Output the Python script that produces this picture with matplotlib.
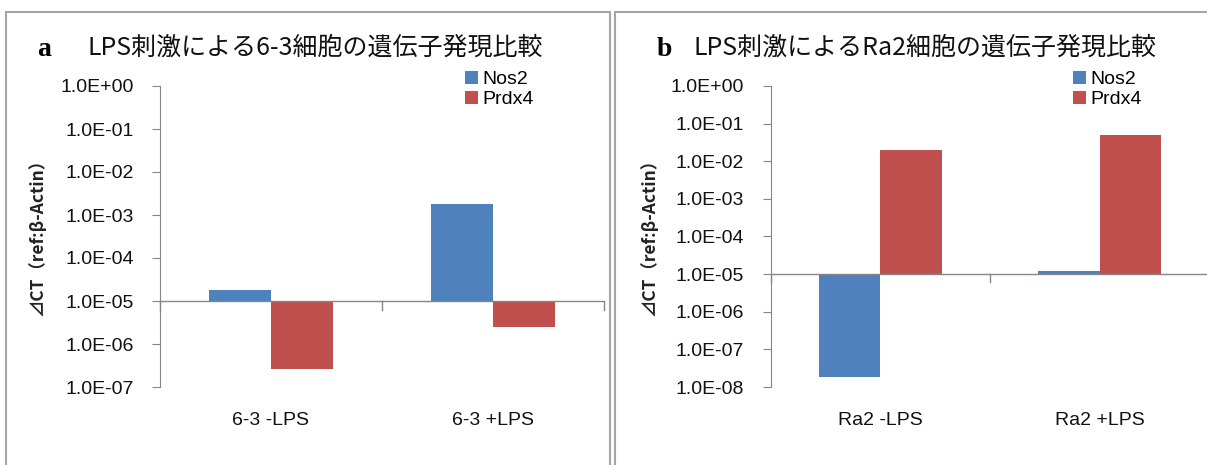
import matplotlib
matplotlib.use("Agg")
import matplotlib.pyplot as plt
from matplotlib.patches import Rectangle
from matplotlib.ticker import FixedLocator, FuncFormatter, NullLocator
import numpy as np

# ---- data ----
series = ["Nos2", "Prdx4"]
colors = ["#4F81BD", "#C0504D"]

cats_a = ["6-3 -LPS", "6-3 +LPS"]
nos2_a = [1.85e-5, 1.85e-3]
prdx4_a = [2.6e-7, 2.5e-6]
title_a = "LPS刺激による6-3細胞の遺伝子発現比較"
yticks_a = [1e0, 1e-1, 1e-2, 1e-3, 1e-4, 1e-5, 1e-6, 1e-7]

cats_b = ["Ra2 -LPS", "Ra2 +LPS"]
nos2_b = [1.9e-8, 1.2e-5]
prdx4_b = [1.95e-2, 5.0e-2]
title_b = "LPS刺激によるRa2細胞の遺伝子発現比較"
yticks_b = [1e0, 1e-1, 1e-2, 1e-3, 1e-4, 1e-5, 1e-6, 1e-7, 1e-8]

baseline = 1e-5
ylabel = "⊿CT（ref:β-Actin）"

W, H = 1207, 465
fig = plt.figure(figsize=(W / 100, H / 100), dpi=100)

def fx(px):
    return px / W

def fy(py):
    return 1 - py / H

CJK = ["Noto Sans CJK JP", "DejaVu Sans"]
LAT = ["Liberation Sans", "DejaVu Sans"]
axcol = "#868686"
framecol = "#A6A6A6"

# panel frames
fig.add_artist(Rectangle((fx(6), fy(475)), fx(610) - fx(6), fy(12) - fy(475),
                         transform=fig.transFigure, fill=False, ec=framecol, lw=1.5))
fig.add_artist(Rectangle((fx(615), fy(475)), fx(1220) - fx(615), fy(12) - fy(475),
                         transform=fig.transFigure, fill=False, ec=framecol, lw=1.5))


def panel(left_px, right_px, cats, vals, yticks, ylab_x, letter, letter_x, title,
          title_x, leg_x):
    ax = fig.add_axes([fx(left_px), fy(387), fx(right_px) - fx(left_px), fy(86) - fy(387)])
    ax.set_yscale("log")
    ax.set_ylim(min(yticks), max(yticks))
    ax.set_xlim(-0.5, len(cats) - 0.5)
    x = np.arange(len(cats))
    w = 0.28
    offs = [-w / 2, w / 2]
    handles = []
    for k, (s, c) in enumerate(zip(series, colors)):
        v = np.array(vals[k])
        h = ax.bar(x + offs[k], v - baseline, bottom=baseline, width=w, color=c,
                   label=s, linewidth=0)
        handles.append(h)
    # x-axis at baseline
    ax.axhline(baseline, color=axcol, lw=1.0, zorder=3)
    for b in np.arange(len(cats) + 1) - 0.5:
        ax.plot([b, b], [baseline, baseline * 10 ** (-0.2)], color=axcol, lw=1.0,
                clip_on=False, zorder=3)
    for sp in ["top", "right", "bottom"]:
        ax.spines[sp].set_visible(False)
    ax.spines["left"].set_color(axcol)
    ax.yaxis.set_major_locator(FixedLocator(yticks))
    ax.yaxis.set_minor_locator(NullLocator())
    ax.yaxis.set_major_formatter(FuncFormatter(lambda v, p: f"{v:.1E}"))
    ax.tick_params(axis="y", direction="out", length=6, color=axcol, pad=13,
                   labelsize=14, labelcolor="#111111")
    for t in ax.get_yticklabels():
        t.set_family(LAT)
    ax.set_xticks(x)
    ax.set_xticklabels(cats, family=LAT, fontsize=14, color="#111111")
    ax.tick_params(axis="x", length=0, pad=18)
    ax.set_facecolor("none")
    # y label
    fig.text(fx(ylab_x), fy(233), ylabel, rotation=90, ha="center", va="center",
             family=CJK, fontsize=12.5, fontweight="bold", color="#222222")
    # title
    fig.text(fx(letter_x), fy(50), letter, ha="left", va="center",
             family=["Liberation Serif", "DejaVu Serif"], fontsize=20, fontweight="bold")
    fig.text(fx(title_x), fy(48), title, ha="left", va="center", family=CJK,
             fontsize=18, color="#111111")
    ax.legend(handles=handles, loc="upper left",
              bbox_to_anchor=(fx(leg_x), fy(71)), bbox_transform=fig.transFigure,
              frameon=False, handlelength=0.65, handleheight=0.65,
              handletextpad=0.25, labelspacing=0.12, borderpad=0,
              borderaxespad=0, prop={"family": LAT, "size": 14})
    return ax


panel(160, 604, cats_a, [nos2_a, prdx4_a], yticks_a, 38, "a", 37, title_a, 88, 465)
panel(770.7, 1209.3, cats_b, [nos2_b, prdx4_b], yticks_b, 650, "b", 657, title_b, 694, 1073)

fig.savefig("out.png", dpi=100)
